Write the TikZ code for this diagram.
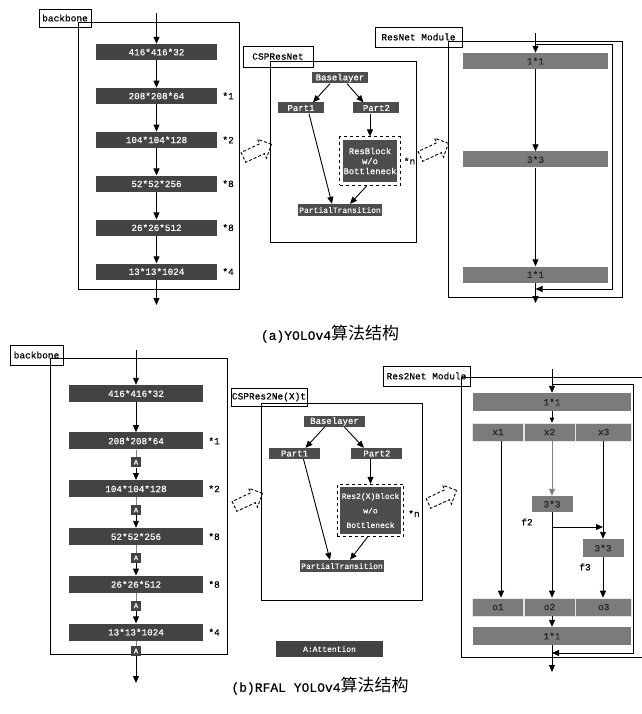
\documentclass[tikz,border=0pt]{standalone}
\usepackage{fontspec}
\setmainfont{Liberation Serif}
\setmonofont{Liberation Mono}[FakeBold=0.4]
\newfontfamily\cjk{Noto Sans CJK SC}
\usepackage{tikz}
\usetikzlibrary{shapes.arrows,arrows.meta,positioning,fit}

\definecolor{darkbox}{HTML}{434343}
\definecolor{cspbox}{HTML}{4D4D4D}
\definecolor{modgray}{HTML}{7B7B7B}
\definecolor{modtext}{HTML}{262626}

\begin{document}
\begin{tikzpicture}[x=1pt, y=-1pt,
    node distance=27.5pt,
    >={Triangle[length=7pt,width=6pt]},
    myedge/.style={->, line width=0.9pt},
    link/.style={gray, line width=0.8pt},
    frame/.style={line width=0.9pt},
    tagbox/.style={draw, line width=0.9pt, inner sep=0pt, font=\ttfamily\fontsize{9.5}{10}\selectfont},
    layer/.style={fill=darkbox, text=white, inner sep=0pt, minimum width=121pt, minimum height=16pt, font=\ttfamily\fontsize{9.3}{10}\selectfont},
    layerb/.style={layer, minimum width=134pt, minimum height=17pt},
    mult/.style={inner sep=0pt, font=\ttfamily\fontsize{9.5}{10}\selectfont},
    csp/.style={fill=cspbox, text=white, inner sep=0pt, minimum height=11pt, font=\ttfamily\fontsize{9}{10}\selectfont},
    modbox/.style={fill=modgray, text=modtext, inner sep=0pt, minimum height=16pt, font=\ttfamily\fontsize{9.5}{10}\selectfont},
    cell/.style={modbox, draw=white!80!gray, line width=0.6pt, minimum height=18pt},
    attn/.style={fill=darkbox, text=white, inner sep=0pt, minimum width=10pt, minimum height=10pt, font=\ttfamily\fontsize{7}{8}\selectfont},
    hollow/.style={shape=single arrow, draw, dash pattern=on 3pt off 2pt, line width=0.9pt, single arrow head extend=5pt, inner xsep=0pt, inner ysep=5pt, minimum height=31pt, rotate=25},
    captext/.style={font=\ttfamily\fontsize{13}{15}\selectfont}
]
\useasboundingbox (0,0) rectangle (641,714);

% (a) backbone
\node[tagbox, minimum width=52pt, minimum height=18pt] (bbtagA) at (65,18) {backbone};
\draw[frame] (78,22) rectangle (239,289);
\node[layer] (a1) at (156.5,52) {416*416*32};
\node[layer, below=of a1] (a2) {208*208*64};
\node[layer, below=of a2] (a3) {104*104*128};
\node[layer, below=of a3] (a4) {52*52*256};
\node[layer, below=of a4] (a5) {26*26*512};
\node[layer, below=of a5] (a6) {13*13*1024};
\node[mult, right=5pt of a2] (ma2) {*1};
\node[mult, right=5pt of a3] (ma3) {*2};
\node[mult, right=5pt of a4] (ma4) {*8};
\node[mult, right=5pt of a5] (ma5) {*8};
\node[mult, right=5pt of a6] (ma6) {*4};
\coordinate (inA) at (156.5,13);
\coordinate (outA) at (156.5,305);
\draw[myedge] (inA) -- (a1);
\draw[myedge] (a1) -- (a2);
\draw[myedge] (a2) -- (a3);
\draw[myedge] (a3) -- (a4);
\draw[myedge] (a4) -- (a5);
\draw[myedge] (a5) -- (a6);
\draw[myedge] (a6) -- (outA);

% (a) CSPResNet
\node[tagbox, minimum width=70pt, minimum height=21pt] (csptagA) at (278,56.5) {CSPResNet};
\draw[frame] (270,61) rectangle (416,242);
\node[csp, minimum width=56pt] (baseA) at (340,78) {Baselayer};
\node[csp, minimum width=46pt] (p1A) at (301,108) {Part1};
\node[csp, minimum width=46pt, right=29pt of p1A] (p2A) {Part2};
\node[csp, minimum width=54pt, minimum height=42pt, align=center, font=\ttfamily\fontsize{8.8}{10}\selectfont] (rbA) at (370,161) {ResBlock\\w/o\\Bottleneck};
\node[draw, dashed, line width=0.8pt, inner sep=3pt, fit=(rbA)] (rbfitA) {};
\node[mult, right=3pt of rbfitA] (nA) {*n};
\node[csp, minimum width=84pt, minimum height=12pt, font=\ttfamily\fontsize{8}{9}\selectfont] (ptA) at (340,210) {PartialTransition};
\draw[myedge] ([xshift=-10pt]baseA.south) -- ([xshift=12pt]p1A.north);
\draw[myedge] ([xshift=7pt]baseA.south) -- ([xshift=-13pt]p2A.north);
\draw[myedge] (p2A.south -| rbfitA) -- (rbfitA.north);
\draw[myedge] ([xshift=8pt]p1A.south) -- ([xshift=-8pt]ptA.north);
\draw[myedge] ([xshift=-3pt]rbfitA.south) -- ([xshift=10pt]ptA.north);
\node[hollow] (h1A) at (255,152) {};
\node[hollow] (h2A) at (432,151) {};

% (a) ResNet Module
\node[tagbox, minimum width=87pt, minimum height=20pt] (restagA) at (418.5,37) {ResNet Module};
\draw[frame] (448,41) rectangle (622,297);
\node[modbox, minimum width=145pt] (r1A) at (535.5,61) {1*1};
\node[modbox, minimum width=145pt] (r2A) at (535.5,159.5) {3*3};
\node[modbox, minimum width=145pt] (r3A) at (535.5,274.5) {1*1};
\coordinate (rinA) at (535.5,33);
\coordinate (routA) at (535.5,303);
\coordinate (skip1A) at (612,44);
\coordinate (skip2A) at (612,289);
\draw[myedge] (rinA) -- (r1A);
\draw[myedge] (r1A) -- (r2A);
\draw[myedge] (r2A) -- (r3A);
\draw[myedge] (r3A) -- (routA);
\draw[myedge] (skip1A -| rinA) -- (skip1A) -- (skip2A) -- (skip2A -| rinA);

\node[captext] (capA) at (330,334) {(a)YOLOv4{\cjk\fontsize{17}{18}\selectfont 算法结构}};

% (b) backbone with attention
\node[tagbox, minimum width=53pt, minimum height=20pt] (bbtagB) at (36.5,355) {backbone};
\draw[frame] (50,358) rectangle (227,654);
\node[layerb] (b1) at (136,393.5) {416*416*32};
\node[layerb, below=30pt of b1] (b2) {208*208*64};
\node[attn, below=7.5pt of b2] (at1) {A};
\node[layerb, below=12.5pt of at1] (b3) {104*104*128};
\node[attn, below=7.5pt of b3] (at2) {A};
\node[layerb, below=12.5pt of at2] (b4) {52*52*256};
\node[attn, below=7.5pt of b4] (at3) {A};
\node[layerb, below=12.5pt of at3] (b5) {26*26*512};
\node[attn, below=7.5pt of b5] (at4) {A};
\node[layerb, below=12.5pt of at4] (b6) {13*13*1024};
\node[attn, below=5pt of b6] (at5) {A};
\node[mult, right=5pt of b2] (mb2) {*1};
\node[mult, right=5pt of b3] (mb3) {*2};
\node[mult, right=5pt of b4] (mb4) {*8};
\node[mult, right=5pt of b5] (mb5) {*8};
\node[mult, right=5pt of b6] (mb6) {*4};
\coordinate (inB) at (136,350);
\coordinate (outB) at (136,683);
\draw[myedge] (inB) -- (b1);
\draw[myedge] (b1) -- (b2);
\draw[link] (b2) -- (at1);
\draw[myedge] (at1) -- (b3);
\draw[link] (b3) -- (at2);
\draw[myedge] (at2) -- (b4);
\draw[link] (b4) -- (at3);
\draw[myedge] (at3) -- (b5);
\draw[link] (b5) -- (at4);
\draw[myedge] (at4) -- (b6);
\draw[link] (b6) -- (at5);
\draw[myedge] (at5) -- (outB);
\node[attn, minimum width=107pt, minimum height=16pt, font=\ttfamily\fontsize{8}{9}\selectfont] (legend) at (329.5,649) {A:Attention};

% (b) CSPRes2Ne(X)t
\node[tagbox, minimum width=76pt, minimum height=18pt] (csptagB) at (269,397) {CSPRes2Ne(X)t};
\draw[frame] (261,403) rectangle (422,600);
\node[csp, minimum width=61pt] (baseB) at (334.5,421.5) {Baselayer};
\node[csp, minimum width=51pt] (p1B) at (294.5,453.5) {Part1};
\node[csp, minimum width=51pt, right=31pt of p1B] (p2B) {Part2};
\node[csp, minimum width=61pt, minimum height=47pt, align=center, font=\ttfamily\fontsize{8}{14.5}\selectfont] (rbB) at (370.5,510.5) {Res2(X)Block\\w/o\\Bottleneck};
\node[draw, dashed, line width=0.8pt, inner sep=2.5pt, fit=(rbB)] (rbfitB) {};
\node[mult, right=4pt of rbfitB, yshift=-3pt] (nB) {*n};
\node[csp, minimum width=84pt, minimum height=12pt, font=\ttfamily\fontsize{8}{9}\selectfont] (ptB) at (342,566) {PartialTransition};
\draw[myedge] ([xshift=-10pt]baseB.south) -- ([xshift=11pt]p1B.north);
\draw[myedge] ([xshift=10pt]baseB.south) -- ([xshift=-13pt]p2B.north);
\draw[myedge] (p2B.south -| rbfitB) -- (rbfitB.north);
\draw[myedge] ([xshift=9pt]p1B.south) -- ([xshift=-12pt]ptB.north);
\draw[myedge] ([xshift=-3pt]rbfitB.south) -- ([xshift=8pt]ptB.north);
\node[hollow] (h1B) at (246,501) {};
\node[hollow] (h2B) at (440,498) {};

% (b) Res2Net Module
\node[tagbox, minimum width=87pt, minimum height=20pt] (r2tag) at (426.5,376) {Res2Net Module};
\draw[frame] (461,377) rectangle (690,657);
\node[modbox, minimum width=158pt, minimum height=18pt] (c1) at (552,402) {1*1};
\node[cell, minimum width=51pt] (x1) at (498,432) {x1};
\node[cell, minimum width=51pt, right=0pt of x1] (x2) {x2};
\node[cell, minimum width=56pt, right=0pt of x2] (x3) {x3};
\node[modbox, minimum width=41pt] (k2) at (552,504) {3*3};
\node[modbox, minimum width=41pt, minimum height=18pt] (k3) at (603,548) {3*3};
\node[mult] (f2) at (527,522) {f2};
\node[mult] (f3) at (585,567) {f3};
\node[cell, minimum width=51pt] (o1) at (498,607) {o1};
\node[cell, minimum width=51pt, right=0pt of o1] (o2) {o2};
\node[cell, minimum width=56pt, right=0pt of o2] (o3) {o3};
\node[modbox, minimum width=158pt, minimum height=18pt] (c2) at (552,636) {1*1};
\coordinate (r2in) at (552,369);
\coordinate (r2out) at (552,672);
\coordinate (sk1) at (633,384);
\coordinate (sk2) at (633,653);
\coordinate (br) at (552,527);
\draw[myedge] (r2in) -- (c1);
\draw[->, line width=0.6pt, >={Triangle[length=5pt,width=4.5pt]}] (c1) -- (x2.north -| c1);
\draw[myedge] ([xshift=3pt]x1.south) -- ([xshift=3pt]o1.north);
\draw[->, gray, line width=0.8pt] (x2.south -| c1) -- (k2);
\draw[myedge] (k2) -- (o2.north -| k2);
\draw[myedge] (br) -- (br -| k3);
\draw[myedge] (x3.south -| k3) -- (k3);
\draw[myedge] (k3) -- (o3.north -| k3);
\draw[myedge] (o2.south -| c2) -- (c2);
\draw[myedge] (c2) -- (r2out);
\draw[myedge] (sk1 -| r2in) -- (sk1) -- (sk2) -- (sk2 -| r2in);

\node[captext] (capB) at (320,686) {(b)RFAL YOLOv4{\cjk\fontsize{17}{18}\selectfont 算法结构}};
\end{tikzpicture}
\end{document}
